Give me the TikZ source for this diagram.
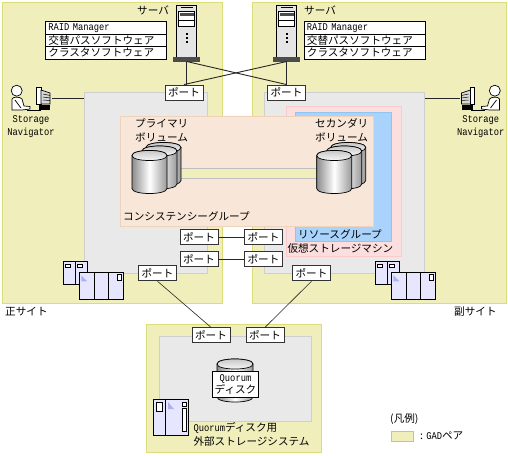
\documentclass[tikz,border=0pt]{standalone}
\usepackage{fontspec}
\setmainfont{Noto Sans CJK JP}
\newfontfamily\latfont[FakeStretch=0.85]{Liberation Mono}
\usepackage{tikz}
\usetikzlibrary{positioning, calc}
\definecolor{siteyellow}{HTML}{F0EFBC}
\definecolor{siteedge}{HTML}{DCDC78}
\definecolor{boxgray}{HTML}{E9E9E9}
\definecolor{boxedge}{HTML}{CFCFCF}
\definecolor{grouporange}{HTML}{F8E7D8}
\definecolor{groupedge}{HTML}{EFD2BA}
\definecolor{vsmpink}{HTML}{FDDEDE}
\definecolor{vsmedge}{HTML}{FBCACA}
\definecolor{rgblue}{HTML}{A9D3FB}
\definecolor{rgedge}{HTML}{90C4F5}
\definecolor{devblue}{HTML}{E6E6FF}
\definecolor{devmark}{HTML}{B0B0F0}

\begin{document}
\begin{tikzpicture}[x=1pt, y=-1pt,
        every node/.style={font=\fontsize{10.6}{14}\selectfont, inner sep=0pt},
        area/.style={draw, line width=1pt, inner sep=0pt},
        site/.style={area, fill=siteyellow, draw=siteedge},
        graybox/.style={area, fill=boxgray, draw=boxedge},
        port/.style={draw=black!80, line width=0.9pt, fill=white, minimum width=38pt, minimum height=15pt},
        softrow/.style={draw, line width=0.8pt, fill=white, minimum width=121pt, minimum height=12.6pt, anchor=west, text width=115pt, align=left},
        link/.style={line width=0.9pt, black!85},
        label/.style={anchor=west, align=left},
        disk/.pic={
            \draw[line width=0.7pt, left color=black!45, right color=black!40, middle color=white]
                (0,0) -- (0,33) .. controls (0,39.7) and (35,39.7) .. (35,33) -- (35,0)
                .. controls (35,-6.7) and (0,-6.7) .. (0,0) -- cycle;
            \draw[line width=0.7pt, top color=black!25, bottom color=white]
                (0,0) .. controls (0,-6.7) and (35,-6.7) .. (35,0)
                .. controls (35,6.7) and (0,6.7) .. (0,0) -- cycle;
        },
        volume/.pic={
            \foreach \dx/\dy in {14/-8, 10/-4.5, 0/0}
                \pic at (\dx,\dy) {disk};
        },
        server/.pic={
            \draw[line width=0.8pt, fill=black!10] (0,0) rectangle (20,52);
            \draw[line width=0.5pt, fill=black!35] (4,2) -- (16,2);
            \draw[line width=0.6pt, fill=white] (2,6) rectangle (18,21);
            \fill[black!70] (3,7.5) rectangle (17,11);
            \draw[line width=0.5pt] (2,15) -- (18,15);
            \fill (9,28) rectangle (11,30);
            \fill (9,32) rectangle (11,34);
            \fill (9,35.5) rectangle (11,37.5);
            \fill[black!70] (-3.5,52) rectangle (23,56.5);
        },
        operator/.pic={
            \draw[line width=0.7pt, fill=white] (16.7,90.7) circle (5.5);
            \draw[line width=0.7pt, fill=white] (12,110) -- (12,99) .. controls (13,96.5) and (20,96.5) .. (22,99)
                -- (24,106) -- (30,106.5) -- (30,109) -- (22,110) -- cycle;
            \draw[line width=0.7pt] (15,100) -- (21,108);
            \draw[line width=0.7pt, fill=white] (36.7,87.3) rectangle (41,104);
            \draw[line width=0.7pt, fill=black!15] (41,90) -- (50,93) -- (50,104) -- (41,104) -- cycle;
            \draw[line width=0.5pt] (43,94) -- (50,95.5) (43,97) -- (50,98) (43,100) -- (50,100.5);
            \fill (39,105) rectangle (50,110);
            \draw[line width=0.9pt] (27,110.3) -- (41,110.3);
        },
        cabinet/.pic={
            \draw[line width=0.8pt, fill=devblue] (0,0) rectangle (24,23);
            \draw[line width=0.8pt] (12,0) -- (12,23);
            \draw[line width=0.6pt, fill=white] (2,3) rectangle (6.5,5.5);
            \draw[line width=0.6pt, fill=white] (14,3) rectangle (18.5,5.5);
            \draw[line width=0.8pt, fill=devblue] (16,11) rectangle (60,38);
            \draw[line width=0.8pt] (31,11) -- (31,38) (45.5,11) -- (45.5,38);
            \fill[devmark] (18,14) -- (18,20) -- (24,20) -- cycle;
            \draw[line width=0.6pt, fill=white] (54,13) rectangle (58,19);
        },
    ]

    % ---- Sites ----
    \node[site, minimum width=220pt, minimum height=301pt] (siteP) at (112.5,152.5) {};
    \node[site, minimum width=254pt, minimum height=301pt] (siteS) at (379,152.5) {};
    \node[site, minimum width=175pt, minimum height=128pt] (siteQ) at (233.5,388) {};

    % ---- Storage systems ----
    \node[graybox, minimum width=123pt, minimum height=181pt] (grayP) at (145.5,182.5) {};
    \node[graybox, minimum width=160pt, minimum height=181pt] (grayS) at (344,182.5) {};
    \node[graybox, minimum width=152pt, minimum height=85pt] (grayQ) at (235.5,378.5) {};

    % ---- Groups ----
    \node[area, fill=vsmpink, draw=vsmedge, minimum width=115pt, minimum height=150pt] (vsm) at (343.5,181.5) {};
    \node[area, fill=rgblue, draw=rgedge, minimum width=96pt, minimum height=129pt] (rgroup) at (343.5,176.5) {};
    \node[area, fill=grouporange, draw=groupedge, minimum width=253pt, minimum height=110pt] (cgroup) at (246.5,171) {};
    \node[area, fill=siteyellow, draw=black!25, minimum width=170pt, minimum height=10pt] (gadband) at (245,173.3) {};

    % ---- Volumes ----
    \pic at (132,155.5) {volume};
    \pic at (316.7,155.5) {volume};

    % ---- Quorum disk ----
    \pic[xscale=36/35] at (217,364) {disk};
    \node[draw, line width=0.8pt, fill=white, align=center, minimum width=45.6pt, minimum height=26.7pt,
          font=\fontsize{10.6}{12.5}\selectfont] (quorum) at (235.5,384.5) {{\latfont\fontsize{10.3}{12.5}\selectfont Quorum}\\ディスク};

    % ---- Servers ----
    \pic at (176.7,5) {server};
    \pic at (276.7,5) {server};
    \coordinate (srvP) at (186.7,61.5);
    \coordinate (srvS) at (286.7,61.5);

    % ---- Software lists ----
    \node[softrow] (raidP) at (45,27.7) {\latfont\fontsize{10.3}{12}\selectfont RAID Manager};
    \node[softrow] (pathP) at (45,40.2) {交替パスソフトウェア};
    \node[softrow] (clusP) at (45,52.8) {クラスタソフトウェア};
    \node[softrow] (raidS) at (303.5,27.7) {\latfont\fontsize{10.3}{12}\selectfont RAID Manager};
    \node[softrow] (pathS) at (303.5,40.2) {交替パスソフトウェア};
    \node[softrow] (clusS) at (303.5,52.8) {クラスタソフトウェア};

    % ---- Ports ----
    \node[port] (portA) at (184,92.5) {ポート};
    \node[port] (portB) at (286.5,92.5) {ポート};
    \node[port] (portC) at (199,237) {ポート};
    \node[port] (portD) at (263.5,237) {ポート};
    \node[port] (portE) at (199,259.3) {ポート};
    \node[port] (portF) at (263.5,259.3) {ポート};
    \node[port] (portG) at (157.5,273.3) {ポート};
    \node[port] (portH) at (311.5,273.3) {ポート};
    \node[port] (portI) at (211,335.3) {ポート};
    \node[port] (portJ) at (265,335.3) {ポート};

    % ---- Connections ----
    \draw[link] (srvP) -- (srvP |- portA.north);
    \draw[link] (srvS) -- (srvS |- portB.north);
    \draw[link] (srvP) -- (portB.north);
    \draw[link] (srvS) -- (portA.north);
    \draw[link] (portC) -- (portD);
    \draw[link] (portE) -- (portF);
    \draw[link, line width=0.6pt] (portG.south) -- (portI.north);
    \draw[link, line width=0.6pt] (portH.south) -- (portJ.north);

    % ---- Storage Navigator ----
    \pic at (0,0) {operator};
    \pic[xscale=-1] at (511.5,0) {operator};
    \coordinate (navP) at (52,98.5);
    \coordinate (navS) at (459.5,98.5);
    \draw[link] (navP) -- (navP -| grayP.west);
    \draw[link] (navS) -- (navS -| grayS.east);

    % ---- Storage devices ----
    \pic at (63.3,261.3) {cabinet};
    \pic at (375.3,261.3) {cabinet};
    \draw[line width=0.8pt, fill=devblue] (153,399.3) rectangle (188.7,435);
    \draw[line width=0.8pt] (165.7,399.3) -- (165.7,435);
    \draw[line width=0.6pt, fill=white] (156.7,402) rectangle (162.7,411);
    \fill[devmark] (168,402) -- (168,409) -- (174,409) -- cycle;
    \draw[line width=0.6pt, fill=white] (182.3,402) rectangle (186,406);
    \draw[line width=0.6pt, fill=white] (182.3,408) rectangle (186,431);

    % ---- Labels ----
    \node[label] (srvlabP) at (137,10) {サーバ};
    \node[label] (srvlabS) at (304,10) {サーバ};
    \node[label] (pvol) at (135,130) {プライマリ\\ボリューム};
    \node[label] (svol) at (315,130) {セカンダリ\\ボリューム};
    \node[label] (cglabel) at (123,216) {コンシステンシーグループ};
    \node[label] (rglabel) at (298,234) {リソースグループ};
    \node[label] (vsmlabel) at (287.3,248) {仮想ストレージマシン};
    \node[label] (sitelabP) at (5,312) {正サイト};
    \node[label] (sitelabS) at (454,312) {副サイト};
    \node[align=center, font=\latfont\fontsize{10.3}{13}\selectfont] (navlabP) at (31,126.5) {Storage\\Navigator};
    \node[align=center, font=\latfont\fontsize{10.3}{13}\selectfont] (navlabS) at (480.7,126.5) {Storage\\Navigator};
    \node[label] (quolabel) at (193.3,434.5) {{\latfont\fontsize{10.3}{14}\selectfont Quorum}ディスク用\\外部ストレージシステム};

    % ---- Legend ----
    \node[label] (legtitle) at (390,419) {(凡例)};
    \node[site, draw=black!25, minimum width=21.5pt, minimum height=10pt] (legbox) at (402.5,436) {};
    \node[label] (legtext) at (420,436) {: {\latfont\fontsize{10.3}{14}\selectfont GAD}ペア};

    \useasboundingbox (0,0) rectangle (508,455);
\end{tikzpicture}
\end{document}
